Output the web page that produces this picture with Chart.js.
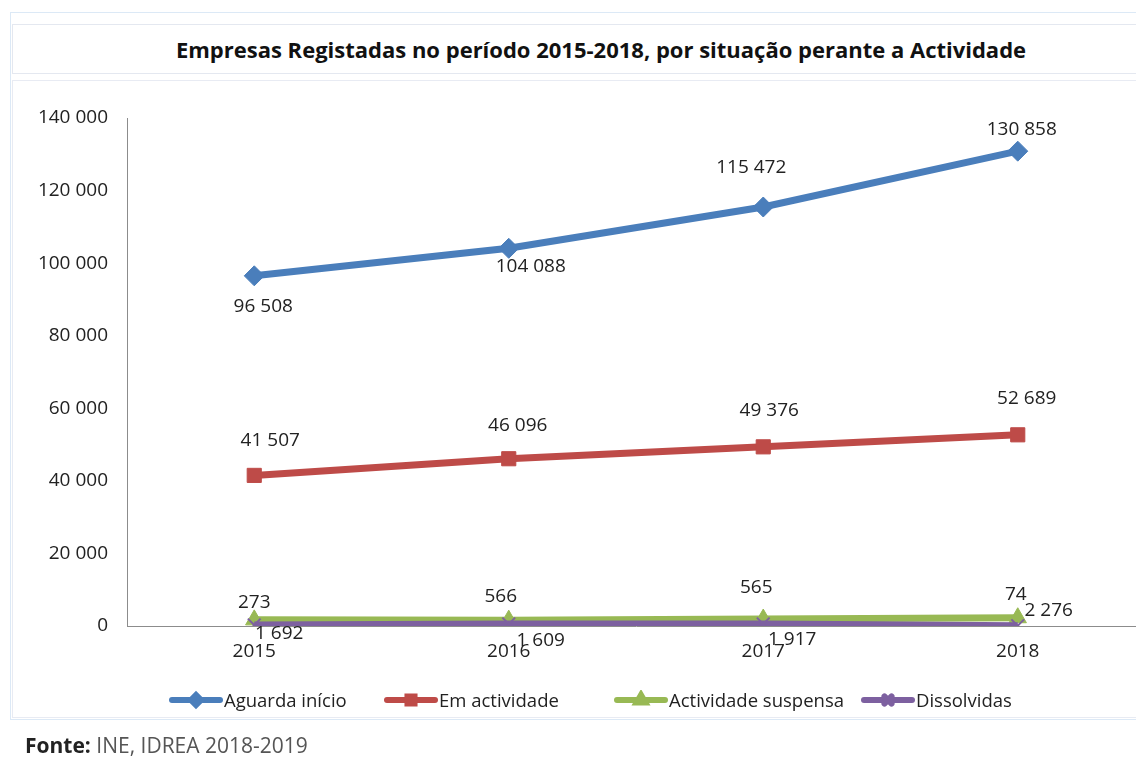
<!DOCTYPE html>
<html>
<head>
<meta charset="utf-8">
<script src="https://cdn.jsdelivr.net/npm/chart.js@4.4.0/dist/chart.umd.min.js"></script>
<style>
    html, body { margin: 0; padding: 0; background: #fff; overflow: hidden; }
    body { width: 1136px; height: 762px; position: relative; font-family: "Open Sans", sans-serif; }
    .outer { position: absolute; left: 10px; top: 12px; width: 1140px; height: 706px; border: 1px solid #dce9f6; }
    .titlebox { position: absolute; left: 12px; top: 24px; width: 1140px; height: 48px; border: 1px solid #e4e8f0;
        text-align: center; line-height: 48px; font-weight: bold; font-size: 22px; color: #111; }
    .titlebox span { position: relative; left: 18px; }
    .plotbox { position: absolute; left: 12px; top: 80px; width: 1140px; height: 636px; border: 1px solid #e8ebf3; }
    #chart { position: absolute; left: 0; top: 0; }
    .legend { position: absolute; top: 686px; left: 0; width: 1136px; height: 24px; font-size: 18.5px; color: #222; }
    .legend .item { position: absolute; top: 0; height: 24px; line-height: 24px; white-space: nowrap; }
    .legend canvas { vertical-align: middle; }
    .legend span { vertical-align: middle; }
    .source { position: absolute; left: 25px; top: 731px; font-size: 21px; color: #555; }
    .source b { color: #222; }
</style>
</head>
<body>
<div class="outer"></div>
<div class="titlebox"><span>Empresas Registadas no período 2015-2018, por situação perante a Actividade</span></div>
<div class="plotbox"></div>
<canvas id="chart" width="1160" height="762"></canvas>
<div class="legend" id="legend"></div>
<div class="source"><b>Fonte:</b> INE, IDREA 2018-2019</div>

<script>
// Data
const years = ['2015', '2016', '2017', '2018'];
const seriesNames = ['Aguarda início', 'Em actividade', 'Actividade suspensa', 'Dissolvidas'];
const aguardaInicio = [96508, 104088, 115472, 130858];
const emActividade = [41507, 46096, 49376, 52689];
const actividadeSuspensa = [1692, 1609, 1917, 2276];
const dissolvidas = [273, 566, 565, 74];
const yTicks = [0, 20000, 40000, 60000, 80000, 100000, 120000, 140000];

// Styles
const colors = ['#4a7ebb', '#be4b48', '#98b954', '#7d60a0'];
const markers = ['rectRot', 'rect', 'triangle', 'crossRot'];
// label offsets from each point, per series
const labelOffsets = [
    [[9, 31], [22, 18], [-12, -39], [4, -22]],
    [[16, -35], [9, -33], [6, -36], [9, -36]],
    [[25, 14], [32, 20], [29, 21], [31, -7]],
    [[0, -22], [-8, -27], [-7, -36], [-2, -31]]
];
const legendX = [168, 383, 613, 860];

const FONT = '"Open Sans", sans-serif';

function fmt(v) {
    return String(v).replace(/\B(?=(\d{3})+(?!\d))/g, ' ');
}

const valueLabels = {
    id: 'valueLabels',
    afterDatasetsDraw(chart) {
        const ctx = chart.ctx;
        ctx.save();
        ctx.font = '19px ' + FONT;
        ctx.fillStyle = '#222';
        ctx.textAlign = 'center';
        ctx.textBaseline = 'middle';
        chart.data.datasets.forEach((ds, i) => {
            chart.getDatasetMeta(i).data.forEach((pt, j) => {
                const off = labelOffsets[i][j];
                ctx.fillText(fmt(ds.data[j]), pt.x + off[0], pt.y + off[1]);
            });
        });
        ctx.restore();
    }
};

const allSeries = [aguardaInicio, emActividade, actividadeSuspensa, dissolvidas];
const radii = [10, 10, 10, 9];

const ctx = document.getElementById('chart').getContext('2d');
new Chart(ctx, {
    type: 'line',
    data: {
        labels: years,
        datasets: allSeries.map((d, i) => ({
            label: seriesNames[i],
            data: d,
            borderColor: colors[i],
            backgroundColor: colors[i],
            borderWidth: 7,
            pointStyle: markers[i],
            pointRadius: radii[i],
            pointBorderWidth: i === 3 ? 2 : 1,
            pointBorderColor: colors[i],
            pointBackgroundColor: colors[i],
            tension: 0,
            order: 3 - i
        }))
    },
    options: {
        responsive: false,
        animation: false,
        layout: { padding: { left: 0, right: 15, top: 118, bottom: 96 } },
        plugins: {
            legend: { display: false },
            tooltip: { enabled: false }
        },
        scales: {
            x: {
                offset: true,
                afterFit: s => { s.height = 40; },
                grid: { display: false, drawTicks: false },
                border: { color: '#8c8c8c', width: 1 },
                ticks: { padding: 14, color: '#222', font: { family: FONT, size: 19 } }
            },
            y: {
                min: 0,
                max: 140000,
                afterFit: s => { s.width = 127; },
                afterBuildTicks: s => { s.ticks = yTicks.map(v => ({ value: v })); },
                grid: { display: false, drawTicks: false },
                border: { color: '#8c8c8c', width: 1 },
                ticks: {
                    padding: 19,
                    color: '#222',
                    font: { family: FONT, size: 19 },
                    callback: v => fmt(v)
                }
            }
        }
    },
    plugins: [valueLabels]
});

// HTML legend with line + marker swatches
const legendEl = document.getElementById('legend');
seriesNames.forEach((name, i) => {
    const item = document.createElement('div');
    item.className = 'item';
    item.style.left = legendX[i] + 'px';
    const sw = document.createElement('canvas');
    sw.width = 56; sw.height = 20;
    const c = sw.getContext('2d');
    c.strokeStyle = colors[i];
    c.fillStyle = colors[i];
    c.lineWidth = 6;
    c.lineCap = 'round';
    c.beginPath(); c.moveTo(4, 10); c.lineTo(52, 10); c.stroke();
    Chart.helpers.drawPoint(c, { pointStyle: markers[i], radius: 5, borderWidth: 2 }, 28, 10);
    item.appendChild(sw);
    const t = document.createElement('span');
    t.textContent = name;
    item.appendChild(t);
    legendEl.appendChild(item);
});
</script>
</body>
</html>
